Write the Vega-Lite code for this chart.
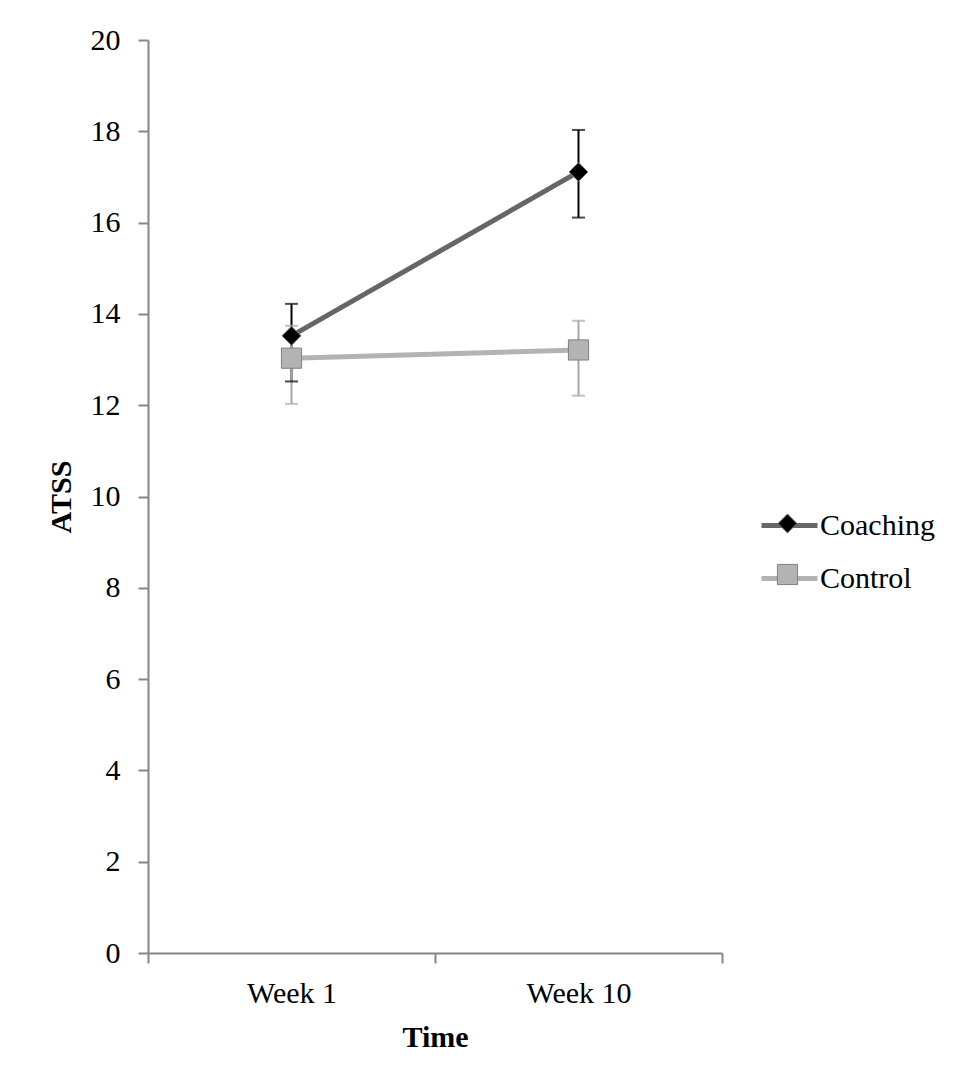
{
  "$schema": "https://vega.github.io/schema/vega-lite/v6.json",
  "width": 574,
  "height": 913,
  "autosize": {"type": "none"},
  "padding": {"left": 148, "top": 40, "right": 240, "bottom": 129},
  "background": "white",
  "data": {
    "values": [
      {"group": "Coaching", "series": "Coaching", "time": "Week 1", "mean": 13.52, "lower": 12.52, "upper": 14.22},
      {"group": "Coaching", "series": "Coaching", "time": "Week 10", "mean": 17.11, "lower": 16.11, "upper": 18.03},
      {"group": "Control", "series": "Control", "time": "Week 1", "mean": 13.03, "lower": 12.03, "upper": 13.74},
      {"group": "Control", "series": "Control", "time": "Week 10", "mean": 13.21, "lower": 12.21, "upper": 13.85}
    ]
  },
  "encoding": {
    "x": {
      "field": "time", "type": "nominal", "sort": ["Week 1", "Week 10"],
      "scale": {"paddingInner": 0, "paddingOuter": 0},
      "axis": {"title": "Time", "labelAngle": 0, "tickBand": "extent", "labelPadding": 15, "titlePadding": 14}
    }
  },
  "layer": [
    {
      "mark": {"type": "rule", "strokeWidth": 2},
      "encoding": {
        "y": {"field": "lower", "type": "quantitative", "scale": {"domain": [0, 20], "nice": false},
              "axis": {"title": "ATSS", "values": [0, 2, 4, 6, 8, 10, 12, 14, 16, 18, 20], "labelPadding": 18, "titlePadding": 14}},
        "y2": {"field": "upper"},
        "color": {"field": "group", "type": "nominal", "scale": {"range": ["#000000", "#a6a6a6"]}, "legend": null}
      }
    },
    {
      "mark": {"type": "tick", "size": 13, "thickness": 2, "orient": "horizontal"},
      "encoding": {
        "y": {"field": "lower", "type": "quantitative"},
        "color": {"field": "group", "type": "nominal", "legend": null}
      }
    },
    {
      "mark": {"type": "tick", "size": 13, "thickness": 2, "orient": "horizontal"},
      "encoding": {
        "y": {"field": "upper", "type": "quantitative"},
        "color": {"field": "group", "type": "nominal", "legend": null}
      }
    },
    {
      "mark": {"type": "line", "strokeWidth": 5},
      "encoding": {
        "y": {"field": "mean", "type": "quantitative"},
        "stroke": {
          "field": "group", "type": "nominal",
          "scale": {"range": ["#666666", "#b3b3b3"]},
          "legend": {
            "orient": "none", "legendX": 611, "legendY": 455, "title": null,
            "symbolType": "stroke", "symbolSize": 3136, "symbolStrokeWidth": 5,
            "labelFont": "Liberation Serif", "labelFontSize": 30, "labelColor": "#000000",
            "labelOffset": 0, "rowPadding": 7, "padding": 0
          }
        }
      }
    },
    {
      "mark": {"type": "point", "filled": true, "size": 3136, "stroke": "#7f7f7f", "strokeWidth": 1, "opacity": 1},
      "encoding": {
        "y": {"field": "mean", "type": "quantitative"},
        "fill": {
          "field": "series", "type": "nominal",
          "scale": {"range": ["#000000", "#b3b3b3"]},
          "legend": {
            "orient": "none", "legendX": 611, "legendY": 455, "title": null,
            "symbolSize": 3136, "symbolStrokeColor": "#7f7f7f", "symbolStrokeWidth": 1, "symbolOpacity": 1,
            "labelExpr": "''", "labelFontSize": 30,
            "labelOffset": 0, "rowPadding": 7, "padding": 0
          }
        },
        "shape": {
          "field": "series", "type": "nominal",
          "scale": {"range": ["M0,-0.34L0.34,0L0,0.34L-0.34,0Z", "M-0.36,-0.36H0.36V0.36H-0.36Z"]},
          "legend": {
            "orient": "none", "legendX": 611, "legendY": 455, "title": null,
            "symbolSize": 3136, "labelExpr": "''", "labelFontSize": 30, "labelOffset": 0, "rowPadding": 7, "padding": 0
          }
        }
      }
    }
  ],
  "config": {
    "view": {"stroke": null},
    "font": "Liberation Serif",
    "axis": {
      "grid": false,
      "domainColor": "#868686", "domainWidth": 2,
      "tickColor": "#868686", "tickWidth": 2, "tickSize": 10,
      "labelFont": "Liberation Serif", "labelFontSize": 30, "labelColor": "#000000",
      "titleFont": "Liberation Serif", "titleFontSize": 30, "titleFontWeight": "bold", "titleColor": "#000000"
    }
  }
}
